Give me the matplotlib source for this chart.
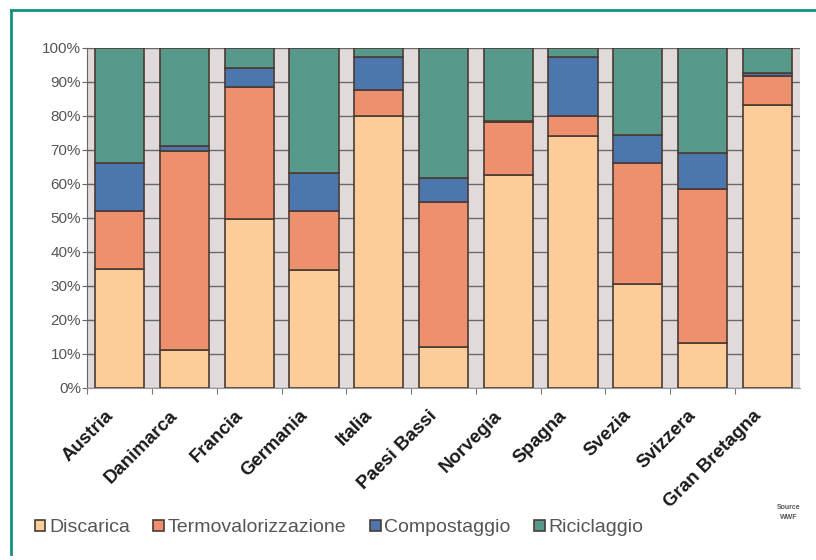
import matplotlib
matplotlib.use('Agg')
import matplotlib.pyplot as plt
import matplotlib.transforms as mtransforms
from matplotlib.lines import Line2D
import numpy as np

paesi = ['Austria', 'Danimarca', 'Francia', 'Germania', 'Italia', 'Paesi Bassi',
         'Norvegia', 'Spagna', 'Svezia', 'Svizzera', 'Gran Bretagna']
discarica = [35, 11, 49.5, 34.5, 80, 12, 62.5, 74, 30.5, 13, 83]
termovalorizzazione = [17, 58.5, 39, 17.5, 7.5, 42.5, 15.5, 6, 35.5, 45.5, 8.5]
compostaggio = [14, 1.5, 5.5, 11, 9.8, 7, 0.5, 17.3, 8.3, 10.5, 1]
riciclaggio = [34, 29, 6, 37, 2.7, 38.5, 21.5, 2.7, 25.7, 31, 7.5]
serie = ['Discarica', 'Termovalorizzazione', 'Compostaggio', 'Riciclaggio']
colori = ['#fccd98', '#ee8f6e', '#4c76ae', '#579a8b']
tick_y = [0, 10, 20, 30, 40, 50, 60, 70, 80, 90, 100]

plt.rcParams['font.family'] = ['Liberation Sans', 'DejaVu Sans']

fig = plt.figure(figsize=(8.16, 5.6), dpi=100)
ax = fig.add_axes([0.107, 0.308, 0.873, 0.607])
ax.set_facecolor('#e0dbda')

x = np.arange(len(paesi))
base = np.zeros(len(paesi))
for nome, valori, col in zip(serie, [discarica, termovalorizzazione, compostaggio, riciclaggio], colori):
    ax.bar(x, valori, bottom=base, width=0.76, color=col, edgecolor='#4a3b33',
           linewidth=1.2, label=nome, zorder=3)
    base = base + np.array(valori)

ax.set_xlim(-0.5, len(paesi) - 0.5)
ax.set_ylim(0, 100)
ax.set_yticks(tick_y)
ax.set_yticklabels([f'{v}%' for v in tick_y], fontsize=11, color='#555555')
ax.yaxis.grid(True, color='#6a6a6a', linewidth=1.0, zorder=0)
ax.tick_params(axis='y', direction='inout', length=7, color='#666666', pad=1)

ax.set_xticks(x - 0.5, minor=False)
ax.set_xticks(x, minor=True)
ax.set_xticklabels([])
ax.set_xticklabels(paesi, minor=True, rotation=45, ha='right', rotation_mode='anchor',
                   fontsize=13.5, fontweight='bold', color='#1a1a1a')
ax.tick_params(axis='x', which='major', direction='out', length=4, color='#777777')
ax.tick_params(axis='x', which='minor', length=0, pad=14)
sposta = mtransforms.ScaledTranslation(-15 / 100, 0, fig.dpi_scale_trans)
for lab in ax.get_xticklabels(minor=True):
    lab.set_transform(lab.get_transform() + sposta)

for side in ['top', 'right']:
    ax.spines[side].set_visible(False)
ax.spines['left'].set_color('#666666')
ax.spines['bottom'].set_color('#999999')

ax.legend(loc='center left', bbox_to_anchor=(-0.085, -0.413), ncol=4, frameon=False,
          fontsize=14, labelcolor='#555555', handlelength=0.55, handleheight=0.55,
          handletextpad=0.2, columnspacing=1.2, borderaxespad=0)

fig.text(0.967, 0.085, 'Source\nWWF', fontsize=5, fontweight='bold', color='#555555',
         ha='center', va='center', linespacing=1.6)

# cornice verde acqua
fig.add_artist(Line2D([0.013, 1.0], [0.982, 0.982], color='#13907f', linewidth=2,
                      transform=fig.transFigure))
fig.add_artist(Line2D([0.013, 0.013], [0.982, 0.01], color='#13907f', linewidth=2,
                      transform=fig.transFigure))

fig.savefig('out.png', dpi=100)
